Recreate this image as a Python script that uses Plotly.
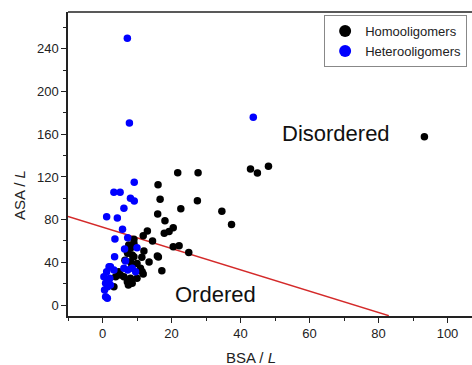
import plotly.graph_objects as go

# Homooligomers (BSA/L, ASA/L)
homo_x = [93.3, 42.9, 44.9, 48.1, 37.4, 34.6, 21.8, 27.7, 16.1, 16.7, 27.5, 22.7, 16.0, 18.1,
          20.5, 19.3, 17.9, 20.5, 22.2, 25.0, 15.9, 16.2, 17.2, 13.5, 13.0, 11.8, 14.5, 9.1,
          11.4, 11.0, 11.8, 8.1, 7.3, 9.1, 8.1, 10.0, 11.5, 4.7, 5.2, 6.2, 7.2, 8.6, 8.1, 10.0,
          3.8, 11.0, 9.1, 7.6, 7.2, 8.6, 7.5, 3.3, 6.5, 8.5, 12.0]
homo_y = [157.7, 127.5, 123.7, 130.0, 75.5, 87.8, 124.0, 124.0, 112.8, 99.0, 97.8, 90.3, 85.3, 79.0,
          72.5, 69.0, 67.2, 54.7, 55.5, 49.2, 46.0, 45.0, 32.2, 40.3, 69.4, 65.0, 60.0, 61.6,
          44.7, 32.8, 29.0, 53.1, 48.4, 45.3, 40.6, 39.0, 31.2, 31.2, 28.1, 26.5, 21.9, 20.3, 25.0, 25.0,
          26.5, 34.4, 57.8, 56.2, 50.0, 46.9, 18.7, 17.2, 42.0, 36.0, 50.5]

# Heterooligomers
hetero_x = [7.2, 7.8, 43.7, 9.2, 3.3, 5.1, 8.1, 9.2, 6.2, 1.2, 4.3, 5.8, 3.6, 7.3, 6.4, 10.0,
            3.5, 1.9, 1.2, 0.4, 2.1, 0.9, 2.3, 0.6, 0.9, 1.4, 6.2, 7.3, 8.6, 9.6, 6.7, 3.3,
            2.3, 1.8, 1.5]
hetero_y = [250.0, 170.6, 176.0, 115.0, 105.6, 105.6, 100.0, 97.5, 90.6, 82.8, 81.5, 71.0, 61.9, 63.0,
            52.5, 53.7, 45.3, 35.9, 31.2, 26.5, 25.0, 20.3, 18.7, 14.0, 7.8, 6.3, 34.4, 32.8, 34.4,
            31.2, 41.2, 32.8, 35.9, 22.0, 17.0]

# Dividing line
line_x = [-10, 83]
line_y = [83, -10]

FONT = "Liberation Sans, Arial, sans-serif"

fig = go.Figure()
fig.add_trace(go.Scatter(x=line_x, y=line_y, mode="lines",
                         line=dict(color="#d42a2a", width=1.5), showlegend=False))
fig.add_trace(go.Scatter(x=homo_x, y=homo_y, mode="markers", name="Homooligomers",
                         marker=dict(color="black", size=7.5)))
fig.add_trace(go.Scatter(x=hetero_x, y=hetero_y, mode="markers", name="Heterooligomers",
                         marker=dict(color="#0000ff", size=7.5)))

fig.update_layout(
    width=472, height=365,
    margin=dict(l=68, r=0, t=12, b=49),
    paper_bgcolor="white", plot_bgcolor="white",
    font=dict(family=FONT, size=13, color="#222"),
    showlegend=True,
    legend=dict(x=0.634, y=0.99, xanchor="left", yanchor="top",
                bordercolor="#888", borderwidth=1, bgcolor="white",
                font=dict(size=13, color="#222"), tracegroupgap=0,
                itemsizing="constant"),
    xaxis=dict(range=[-10, 107.1], showgrid=False, zeroline=False,
               showline=True, linecolor="#222", linewidth=1.5, mirror=False,
               ticks="outside", ticklen=5, tickwidth=1.2, tickcolor="#222",
               tick0=0, dtick=20,
               minor=dict(ticks="outside", ticklen=3, dtick=10, tick0=0, tickcolor="#222")),
    yaxis=dict(range=[-10.3, 274.6], showgrid=False, zeroline=False,
               showline=True, linecolor="#222", linewidth=1.5, mirror=False,
               ticks="outside", ticklen=5, tickwidth=1.2, tickcolor="#222",
               tick0=0, dtick=40,
               minor=dict(ticks="outside", ticklen=3, dtick=20, tick0=0, tickcolor="#222")),
    shapes=[
        dict(type="rect", xref="paper", yref="paper", x0=0.985, x1=1.0, y0=0, y1=0.995,
             fillcolor="white", line=dict(width=0), layer="above"),
        dict(type="line", xref="paper", yref="paper", x0=0, x1=1, y0=1, y1=1,
             line=dict(color="#222", width=1.5), layer="above"),
    ],
    annotations=[
        dict(x=67.8, y=161, xref="x", yref="y", text="Disordered", showarrow=False,
             xanchor="center", yanchor="middle",
             font=dict(size=22, color="#111", family=FONT)),
        dict(x=32.8, y=10.3, xref="x", yref="y", text="Ordered", showarrow=False,
             xanchor="center", yanchor="middle",
             font=dict(size=22, color="#111", family=FONT)),
        dict(x=0.453, y=-0.135, xref="paper", yref="paper", text="BSA / <i>L</i>",
             xanchor="center", yanchor="middle",
             showarrow=False, font=dict(size=15, color="#222", family=FONT)),
        dict(x=-0.121, y=0.398, xref="paper", yref="paper", text="ASA / <i>L</i>",
             xanchor="center", yanchor="middle",
             showarrow=False, textangle=-90, font=dict(size=15, color="#222", family=FONT)),
    ],
)

fig.write_html("out.html")
